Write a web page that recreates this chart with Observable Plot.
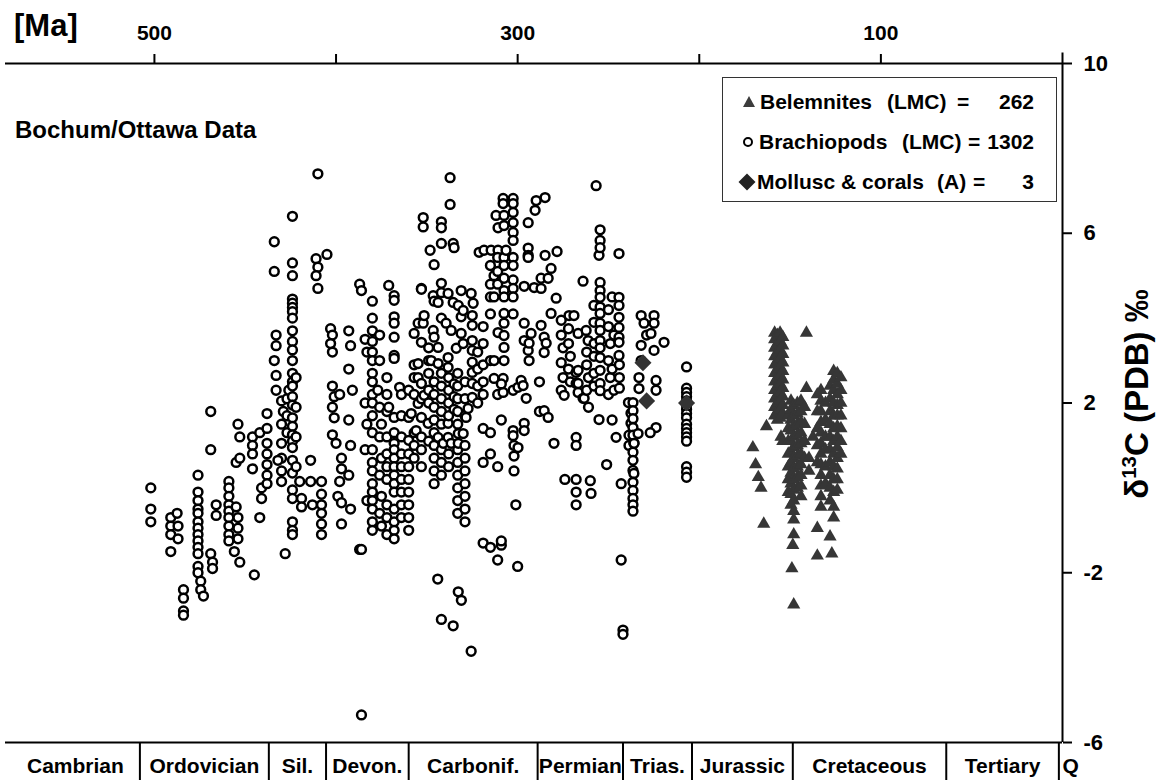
<!DOCTYPE html>
<html><head><meta charset="utf-8">
<script src="https://cdn.jsdelivr.net/npm/d3@7"></script>
<script src="https://cdn.jsdelivr.net/npm/@observablehq/plot@0.6"></script>
<style>
body{margin:0;background:#fff;}
#wrap{position:relative;width:1172px;height:780px;font-family:"Liberation Sans",Arial,Helvetica,sans-serif;font-weight:bold;color:#000;overflow:hidden;}
#chart{position:absolute;left:0;top:0;}
.abs{position:absolute;white-space:nowrap;line-height:1;}
#legend{position:absolute;left:722px;top:77px;width:335px;height:125px;border:1.5px solid #333;box-sizing:border-box;font-size:21px;}
#legend .ln{position:absolute;left:0;right:0;height:24px;line-height:24px;white-space:nowrap;}
#legend .ln span{position:absolute;top:0;}
#legend svg{position:absolute;top:5px;}
#ylab{position:absolute;left:1136px;top:394px;transform:translate(-50%,-50%) rotate(-90deg);font-size:33px;white-space:nowrap;line-height:1;}
#ylab sup{font-size:0.62em;vertical-align:0.55em;}
</style></head><body>
<div id="wrap">
  <div id="chart"></div>
  <div class="abs" style="left:14px;top:10px;font-size:31px;">[Ma]</div>
  <div class="abs" style="left:15px;top:118px;font-size:24px;">Bochum/Ottawa Data</div>
  <div id="legend">
    <div class="ln" style="top:12px;">
      <svg width="14" height="14" style="left:19px;"><path d="M7,1 L13,12 L1,12 Z" fill="#3c3c3c"/></svg>
      <span style="left:37px;">Belemnites</span><span style="left:164px;">(LMC)</span><span style="left:234px;">=</span><span style="right:22px;">262</span>
    </div>
    <div class="ln" style="top:52px;">
      <svg width="14" height="14" style="left:18px;"><circle cx="7" cy="7" r="4" fill="white" stroke="black" stroke-width="2"/></svg>
      <span style="left:36px;">Brachiopods</span><span style="left:179px;">(LMC)</span><span style="left:245px;">=</span><span style="right:22px;">1302</span>
    </div>
    <div class="ln" style="top:92px;">
      <svg width="18" height="18" style="left:15px;top:3px;"><path d="M9,0.5 L17.5,9 L9,17.5 L0.5,9 Z" fill="#222"/></svg>
      <span style="left:34px;">Mollusc &amp; corals</span><span style="left:214px;">(A)</span><span style="left:250px;">=</span><span style="right:22px;">3</span>
    </div>
  </div>
  <div id="ylab">δ<sup>13</sup>C (PDB) ‰</div>
</div>
<script>
// ---- axis / period data ----
const topTicks = [500, 400, 300, 200, 100];
const topLabels = [500, 300, 100];
const rightTicks = [10, 6, 2, -2, -6];
const periodNames = ["Cambrian","Ordovician","Sil.","Devon.","Carbonif.","Permian","Trias.","Jurassic","Cretaceous","Tertiary","Q"];
const periodBounds = [579, 508, 437, 405.5, 360, 289, 242, 204, 148.5, 64, 2, -11];

// ---- brachiopods (LMC): [age Ma, d13C] ----
const brOrdovician = [
 [502,0.0],[502,-0.5],[502,-0.8],
 [491,-0.7],[491,-0.9],[491,-1.1],[491,-1.5],
 [487.5,-0.6],[487,-0.9],[487,-1.2],
 [484,-2.4],[484,-2.6],[484,-2.9],[484,-3.0],
 [476,0.3],[476,-0.1],[476,-0.3],[476,-0.5],[476,-0.6],[476,-0.8],[476,-0.95],[476,-1.1],[476,-1.25],[476,-1.4],[476,-1.55],[476,-1.85],[476,-2.0],
 [474.5,-2.2],[474.5,-2.4],[473,-2.55],
 [469,1.8],[469,0.9],[469,-1.55],[468,-1.75],[468,-1.9],
 [466,-0.4],[466,-0.65],
 [459,0.15],[459,0.0],[459,-0.2],[459,-0.4],[459,-0.55],[459,-0.7],[459,-0.9],[459,-1.1],[459,-1.25],
 [455,-0.45],[454,-0.7],[454,-0.95],[454,-1.2],[456,-1.5],[453,-1.75],[455,0.6],[453,0.7],[454,1.5],[453,1.2],
 [446,1.2],[446,1.0],[446,0.8],[446,0.45],
 [445,-2.05],
 [442,1.3],[441,0.0],[441,-0.25],[442,-0.7],
 [438,1.75],[438,1.4],[438,1.05],[438,0.8],[438,0.55],[438,0.3],[438,0.1]
];
const brSilurian = [
 [434,5.8],[434,5.1],[433,3.6],[433,3.35],[434,3.0],[433,2.65],[433,2.3],
 [430,2.05],[429,1.8],[430,1.5],[430,1.05],[430,0.7],[430,0.4],[430,0.15],[432,0.65],
 [428,-1.55],[427,1.7],[427,2.1],[426,2.3],[427,1.3],
 [424,6.4],[424,5.3],[424,5.0],[424,4.45],[424,4.35],[424,4.25],[424,4.15],[424,4.0],[424,3.7],[424,3.45],[424,3.25],[424,3.0],[424,2.7],[424,2.5],[424,2.4],[424,2.15],[424,1.95],[424,1.65],[424,1.45],[424,1.25],[424,1.1],[424,0.95],[424,0.65],[424,0.35],[424,-0.05],[424,-0.25],[424,-0.8],[424,-1.0],[424,-1.1],
 [422,2.6],[422,1.9],[422,1.2],[422,0.5],
 [420,0.15],[419,-0.25],[419,-0.45],
 [414,0.65],[414,0.15],[413,-0.4],
 [410,7.4],[411,5.4],[410,5.2],[411,5.0],[410,4.7]
];
const brDevonian = [
 [408,0.15],[408,-0.15],[408,-0.4],[408,-0.6],[408,-0.85],[408,-1.1],
 [405,5.5],
 [403,3.75],[402,3.6],[403,3.4],[402,3.2],[402,2.4],[401,2.15],[402,1.9],[401,1.65],[402,1.25],[400,1.05],
 [398,2.2],[397,0.7],[397,0.45],[398,0.15],[399,-0.2],[397,-0.35],[397,-0.85],
 [393,3.7],[392,3.35],[393,2.8],[391,2.3],[393,1.6],[392,1.0],[393,0.3],[392,-0.5],
 [387,4.8],[386,4.65],[387,-1.45],[386,-1.45],[386,-5.35],
 [384,3.5],[383,3.2],[384,2.0],[383,1.5],[384,0.9],[383,-0.3],
 [380,4.4],[380,4.0],[380,3.7],[380,3.45],[380,3.2],[380,3.0],[380,2.7],[380,2.5],[380,2.2],[380,2.0],[380,1.7],[380,1.3],[380,0.9],[380,0.6],[380,0.4],[380,0.1],[380,-0.1],[380,-0.3],[380,-0.5],[380,-0.8],[380,-1.0],
 [376,3.6],[376,3.0],[377,2.3],[376,1.9],[375,1.5],[376,1.2],[375,0.7],[376,0.3],[375,-0.2],[376,-0.6],[375,-0.9],
 [372,2.6],[372,2.2],[372,1.8],[372,1.2],[372,0.8],[372,0.5],[372,0.2],[372,-0.4],[372,-0.7],[372,-1.1],
 [371,4.77],[371,1.9],
 [368,4.53],[368,4.42],[368,4.03],[368,3.88],[368,3.55],[368,3.12],[368,3.05],[368,1.66],[368,1.05],[368,1.3],[368,0.9],[368,0.7],[368,0.5],[368,0.3],[368,0.1],[368,-0.1],[368,-0.5],[368,-0.8],[368,-1.0],[368,-1.2],
 [365,2.37],[364,2.2],[364,1.7],[364,1.2],[364,0.8],[364,0.5],[364,0.2],[364,-0.1],[364,-0.4],[364,-0.7]
];
const brCarboniferous = [
 [360,2.3],[360,1.66],[360,1.12],[360,0.8],[360,0.5],[360,0.2],[360,-0.1],[360,-0.4],[360,-0.7],[360,-1.0],
 [358.6,1.75],[357,3.64],[357,2.9],[357,2.6],[357,2.2],[357,1.3],[357,1.0],[357,0.7],
 [355.9,1.35],[354.8,3.88],[354.8,2.93],[354.8,2.6],[354.8,1.99],
 [353,4.7],[353,4.68],[353,3.43],[353,2.46],[353,1.66],[353,2.1],[353,1.2],[353,0.9],[353,0.5],
 [352,6.37],[352,6.15],[352,3.88],[351.5,4.06],[351.5,2.18],
 [349.3,1.52],[349,3.3],[349,3.0],[349,2.7],[349,2.3],[349,2.0],[349,1.1],
 [348.2,5.6],[347.6,3.0],
 [346.5,4.53],[346.5,3.71],[346,3.55],[346,5.26],[346,4.4],[346,2.5],[346,2.2],[346,1.9],[346,1.6],[346,1.3],[346,1.0],[346,0.7],[346,0.4],[346,0.1],
 [344,-2.15],
 [343.8,4.37],[343.8,3.31],[343.8,2.93],[343.8,1.19],
 [342,6.27],[342,6.13],[342,5.76],[342,4.82],[342,4.6],[342,4.0],[342,2.7],[342,2.4],[342,2.1],[342,1.8],[342,1.5],[342,0.9],[342,0.6],[342,0.3],[342,-3.1],
 [341,1.05],
 [339.4,3.88],[338.3,4.58],[338.3,3.07],[338.3,2.84],[338.3,1.52],[338.3,1.19],[338,2.6],[338,2.3],[338,2.0],[338,1.7],[338,0.8],[338,0.5],
 [337.2,7.31],[337.2,6.68],
 [336.6,3.71],[336.6,1.05],
 [335.5,5.76],[335,5.66],[335.5,4.37],[335.5,-3.25],[335,2.45],[335,2.15],[335,1.85],
 [333.8,3.29],[333,2.7],[333,2.4],[333,2.1],[333,1.8],[333,1.5],[333,0.9],[333,0.6],[333,0.3],[333,0.0],[333,-0.3],[333,-0.6],[332.7,4.3],[332.7,1.28],[332.7,1.05],[332.7,-2.45],
 [331.1,4.65],[331.1,4.03],[331.1,3.64],[331,-2.65],
 [330,4.18],[330,3.4],[330,1.28],
 [329,2.5],[329,2.1],[329,1.7],[329,1.0],[329,0.7],[329,0.4],[329,0.1],[329,-0.2],[329,-0.5],[329,-0.8],
 [328.4,1.66],[327.3,1.87],
 [325.6,4.58],[324.5,4.35],[325,4.06],[325,3.83],[325,3.47],[325,3.24],[325,2.96],[325,2.72],[325,2.46],[325,2.13],[325.6,-3.85],
 [322,3.2],[322,2.8],[322,2.4],[322,2.0],
 [321.2,5.55],[318.5,5.6],
 [319,3.8],[319,3.4],[319,2.9],[319,2.5],[319,2.2],[319,1.4],[319,0.6],[319,-1.3],
 [314.6,5.6],[315,5.24],[315,4.8],[315,4.5],[315,4.1],[315,3.0],[315,1.3],[315,0.8],[315,-1.4],
 [313,3.0],[313,2.58],[313,4.5],[313,5.0],
 [311.9,6.42],[310.8,6.13],[310.8,5.6],[310.8,3.66],[311,5.43],[311,5.1],[311,4.8],[311,2.2],[311,0.5],[311,-1.7],
 [308,6.82],[308,6.7],[308,2.58],[308,2.25],
 [307.5,6.42],[307.5,6.18],[307.5,3.88],[307.5,3.59],[307.5,3.31],[307.5,3.0],[307.5,5.43],[307.5,5.24],[307.5,4.94],[307.5,4.65],[307.5,4.5],[307.5,4.11],
 [309,2.45],[309,1.6],[309,-1.35],[309,-1.25],
 [306.4,5.6],
 [302.5,6.82],[302.5,6.7],[302.5,6.49],[302.5,6.25],[302.5,6.02],[302.5,5.83],[302.5,5.43],[302.5,5.24],[302.5,4.9],[302.5,4.7],[302.5,4.5],[302.5,4.1],[302.5,2.3],[302.5,1.35],[302.5,1.23],
 [302,1.0],[302,0.75],[302,0.4],[301,-0.4],[300,-1.85],
 [299.8,2.37],[299.8,0.95],
 [298.1,2.53],[297,2.41],
 [296.4,4.75],[296.4,3.88],[296.4,3.47],[296.4,1.52],[296.4,1.35],
 [295.3,2.11],
 [294.2,6.25],[294.2,5.65],[294.2,5.48],[294.2,5.43],[294.2,3.24],
 [293.7,3.41],[293.7,3.0],[292.6,3.64]
];
const brPermian = [
 [290.9,4.72],[290.4,6.54],[289.8,6.77],
 [288,2.5],[288,1.8],
 [287.1,4.94],[287.1,3.83],[287.1,4.7],
 [285.4,3.55],[285.4,3.19],[285.4,1.82],
 [284.9,6.84],[284.9,5.48],
 [284.3,3.41],[283.2,4.94],[283.2,1.66],
 [281.6,5.17],[281.6,4.11],
 [280,1.05],
 [278.8,4.47],[278.3,5.57],
 [276,3.95],[276,3.6],[275,3.3],[276,2.95],[275,2.6],[276,2.3],
 [274.4,2.18],[274,0.2],
 [272,3.75],[272,3.4],[271,3.1],[272,2.8],[271,2.5],
 [271.7,4.06],[269,4.06],
 [267.8,2.72],[267.8,2.46],[267.8,1.19],[267.8,1.0],[267.8,0.2],[267.8,-0.1],[267.8,-0.4],
 [266.7,3.64],[266.7,2.77],[266.7,2.25],[266.7,2.46],
 [264,4.87],[264,2.11],[263.4,2.11],
 [262.3,3.71],[261.2,3.47],[262,3.2],[262,2.9],[261,2.6],[262,2.3],[261,1.9],
 [260,0.17],[259.6,-0.13],
 [258,4.3],[258,3.9],[258,3.1],[258,2.7],[258,2.4],
 [257.9,3.4],
 [256.8,7.12],
 [255.2,1.61],[255.2,5.48],
 [254.6,6.08],[254.6,5.83],[254.6,5.66],[254.6,4.84],[254.6,4.65],[254.6,4.49],[254.6,4.26],[254.6,4.11],[254.6,3.88],[254.6,3.71],[254.6,3.47],[254.6,3.3],[254.6,3.07],[254.6,2.77],[254.6,2.46],[254.6,2.29],
 [251,0.55],
 [250,4.2],[250,3.8],[249,3.4],[250,3.0],[249,2.6],[250,2.2],
 [248,4.5],[247,3.6],[248,2.8],[247,2.3],[248,1.6],
 [245.8,1.19],
 [244.2,5.52],[244.2,4.49],[244.2,4.3],[244.2,4.02],[244.2,3.78],[244.2,3.55],[244.2,3.43],[244.2,3.12],[244,2.9],[244,2.6],[244,2.35],
 [243,0.1],[243,-1.7],[242,-3.35],[242,-3.45]
];
const brTriassic = [
 [239,2.01],[238.7,1.24],[238.7,1.0],[237.6,1.76],[237.6,1.52],
 [236.5,2.01],[236.5,1.82],[236.5,1.63],[236.5,1.42],[236.5,1.24],[236,1.05],[236.5,0.84],[236.5,0.65],[236.5,0.41],[236,0.34],[236.5,0.13],[236.5,-0.06],[236.5,-0.25],[236.5,-0.4],[236.5,-0.55],
 [235.9,1.05],
 [233.7,1.28],[233.2,2.6],[233.2,2.34],
 [232,4.06],[232,3.36],[232,3.0],
 [230.4,3.88],[229,3.6],
 [226.6,3.64],
 [224.9,4.06],[224.9,3.88],[224.9,3.24],
 [223.8,2.53],[223.8,2.3],[223.8,1.42],[227,1.3],
 [219.4,3.43],
 [207,2.85],[207,2.35],[207,2.25],[207,2.15],[207,2.05],[207,1.95],[207,1.85],[207,1.75],[207,1.65],[207,1.5],[207,1.4],[207,1.3],[207,1.2],[207,1.1],[207,0.5],[207,0.37],[207,0.25]
];

// ---- belemnites (LMC): [age Ma, d13C] ----
const belemnites = [
 [170.5,0.95],[169,0.55],[167.5,0.25],[166,0.0],[164.5,-0.85],[163,1.45],
 [158.5,3.65],[158.5,3.5],[158.5,3.3],[158.5,3.1],[158.5,2.9],[158.5,2.7],[158.5,2.5],[158.5,2.3],[158.5,2.1],[158.5,1.9],[158.5,1.7],
 [157,3.6],[157,3.4],[157,3.2],[157,3.0],[157,2.8],[157,2.6],[157,2.4],[157,2.2],[157,2.0],[157,1.8],[157,1.6],
 [155.5,3.65],[155.5,3.45],[155.5,3.25],[155.5,3.05],[155.5,2.85],[155.5,2.65],[155.5,2.45],[155.5,2.25],[155.5,2.05],[155.5,1.85],[155.5,1.65],
 [154,3.55],[154,3.35],[154,3.15],[154,2.95],[154,2.75],[154,2.55],[154,2.35],[154,2.15],[154,1.95],[154,1.75],[155,1.2],[154,1.1],
 [151,1.7],[151,1.4],[151,1.1],[151,0.8],[151,0.5],[151,0.2],[151,-0.1],
 [149.5,2.05],[149.5,1.85],[149.5,1.6],[149.5,1.35],[149.5,1.1],[149.5,0.85],[149.5,0.6],[149.5,0.35],[149.5,0.1],[149.5,-0.15],[149.5,-0.4],
 [148,1.95],[148,1.7],[148,1.45],[148,1.2],[148,0.95],[148,0.7],[148,0.45],[148,0.2],[148,-0.05],[148,-0.3],[148,-0.55],[148,-0.75],[148,-1.1],[148.5,-1.35],[148,-2.75],[149,-1.9],
 [146,2.0],[146,1.75],[146,1.5],[146,1.25],[146,1.0],[146,0.75],[146,0.5],[146,0.25],[146,0.0],
 [144,2.05],[144,1.8],[144,1.55],[144,1.3],[144,1.05],[144,0.8],[144,0.55],[144,0.3],[144,0.05],[144,-0.2],
 [142,1.9],[142,1.5],[142,1.1],[142,0.7],
 [141,3.65],[141,2.35],[139.6,0.7],[139.6,0.4],[137.4,1.2],[135,-0.95],[135,-1.6],
 [135,2.2],[135,1.8],[135,1.4],[135,1.0],[135,0.6],
 [133,2.3],[133,2.05],[133,1.8],[133,1.55],[133,1.3],[133,1.05],[133,0.8],[133,0.55],[133,0.3],[133,0.05],[133,-0.2],[133,-0.45],
 [130.5,2.0],[130.5,1.6],[130.5,1.2],[130.5,0.9],[130.5,0.5],[130.5,0.1],
 [128,2.4],[128,2.1],[128,1.8],[128,1.5],[128,1.2],[128,0.9],[128,0.6],[128,0.3],[128,0.0],[128,-0.3],[128,-1.15],[127,-1.55],
 [126,2.75],[126,2.55],[126,2.3],[126,2.0],[126,1.7],[126,1.4],[126,1.1],[126,0.8],[126,0.5],[126,0.2],[126,-0.1],[126,-0.45],[126,-0.7],
 [124,2.7],[124,2.45],[124,2.2],[124,1.95],[124,1.7],[124,1.45],[124,1.2],[124,0.95],[124,0.7],[124,0.45],[124,0.2],[124,-0.05],
 [122,2.6],[122,2.3],[122,2.0],[122,1.7],[122,1.4],[122,1.1],[122,0.8]
];

// ---- mollusc & corals (aragonite) ----
const molluscAges = [231, 229, 207];
const molluscValues = [2.95, 2.05, 2.0];

// ---- build tables ----
const rows = pairs => pairs.map(([age, v]) => ({age, d13C: v}));
const brach = rows([...brOrdovician, ...brSilurian, ...brDevonian, ...brCarboniferous, ...brPermian, ...brTriassic]);
const belem = rows(belemnites);
const moll = molluscAges.map((a, i) => ({age: a, d13C: molluscValues[i]}));
const periods = periodNames.map((name, i) => ({name, mid: (periodBounds[i] + periodBounds[i + 1]) / 2}));
const separators = periodBounds.slice(1, -1);

const chart = Plot.plot({
  width: 1172,
  height: 780,
  marginLeft: 5,
  marginRight: 110,
  marginTop: 63,
  marginBottom: 38,
  style: {fontFamily: "'Liberation Sans', Arial, Helvetica, sans-serif", fontWeight: "bold", color: "black", background: "white"},
  x: {domain: [582, 0], axis: null},
  y: {domain: [-6, 10], axis: null},
  marks: [
    Plot.ruleY([10], {stroke: "black", strokeWidth: 2}),
    Plot.axisX({anchor: "top", ticks: topTicks, tickSize: 10, tickPadding: 14, strokeWidth: 2, label: null,
      tickFormat: d => topLabels.includes(d) ? String(d) : "", fontSize: 21, fontWeight: "bold"}),
    Plot.ruleX([0], {y1: 10.25, y2: -6, stroke: "black", strokeWidth: 2}),
    Plot.axisY({anchor: "right", ticks: rightTicks, tickSize: 9, tickPadding: 12, strokeWidth: 2, label: null,
      tickFormat: d => String(d), fontSize: 22, fontWeight: "bold"}),
    Plot.ruleY([-6], {stroke: "black", strokeWidth: 2}),
    Plot.ruleX(separators, {x: d => d, y1: -6, y2: -6.95, stroke: "black", strokeWidth: 2}),
    Plot.text(periods, {x: "mid", y: -6.57, text: "name", fontSize: 21, fontWeight: "bold", fill: "black"}),
    Plot.dot(brach, {x: "age", y: "d13C", r: 4.4, stroke: "black", strokeWidth: 2.5, fill: "white"}),
    Plot.dot(belem, {x: "age", y: "d13C", symbol: "triangle", r: 4.9, fill: "#363636", stroke: "none"}),
    Plot.dot(moll, {x: "age", y: "d13C", symbol: "diamond2", r: 7.7, fill: "#333", stroke: "none"})
  ]
});
document.getElementById("chart").appendChild(chart);
</script>
</body></html>
